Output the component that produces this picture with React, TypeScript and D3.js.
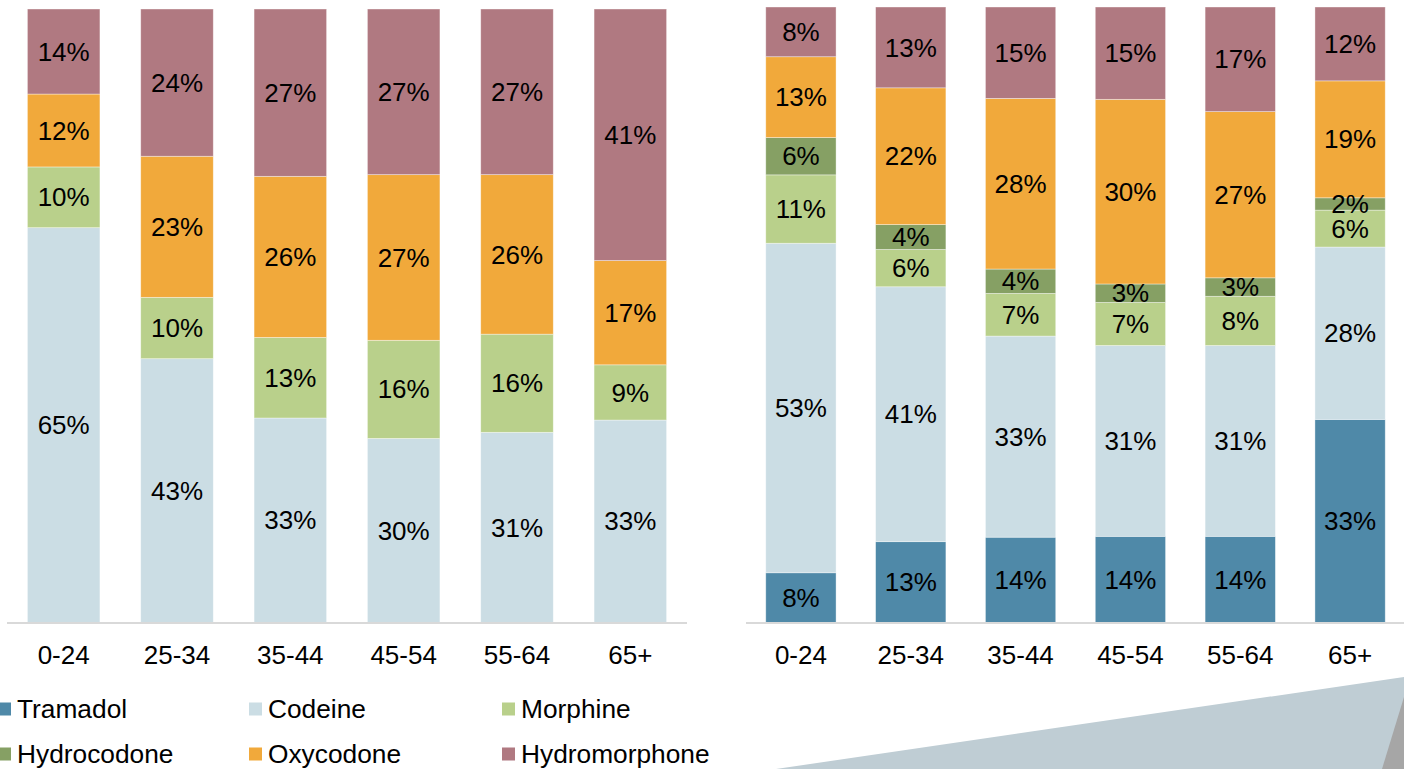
import React from "react";
import * as d3 from "d3";

const categories = ["0-24", "25-34", "35-44", "45-54", "55-64", "65+"];
const seriesNames = ["Tramadol", "Codeine", "Morphine", "Hydrocodone", "Oxycodone", "Hydromorphone"];
const seriesColors = ["#4f89a8", "#cbdde4", "#b9d08b", "#86a064", "#f1a93b", "#b07981"];

// Left chart values (%), per category
const leftTramadol = [0, 0, 0, 0, 0, 0];
const leftCodeine = [65, 43, 33, 30, 31, 33];
const leftMorphine = [10, 10, 13, 16, 16, 9];
const leftHydrocodone = [0, 0, 0, 0, 0, 0];
const leftOxycodone = [12, 23, 26, 27, 26, 17];
const leftHydromorphone = [14, 24, 27, 27, 27, 41];

// Right chart values (%), per category
const rightTramadol = [8, 13, 14, 14, 14, 33];
const rightCodeine = [53, 41, 33, 31, 31, 28];
const rightMorphine = [11, 6, 7, 7, 8, 6];
const rightHydrocodone = [6, 4, 4, 3, 3, 2];
const rightOxycodone = [13, 22, 28, 30, 27, 19];
const rightHydromorphone = [8, 13, 15, 15, 17, 12];

const FONT = "'Liberation Sans', Arial, sans-serif";

function buildRows(cols: number[][]) {
  return categories.map((c, i) => {
    const row: any = { cat: c };
    seriesNames.forEach((s, j) => (row[s] = cols[j][i]));
    return row;
  });
}

function StackedChart({ rows, x0, x1, yTop, yBottom, axisX0, axisX1 }: any) {
  const x = d3.scaleBand<string>().domain(categories).range([x0, x1]).paddingInner(0.36).paddingOuter(0.18);
  const y = d3.scaleLinear().domain([0, 1]).range([yBottom, yTop]);
  const stack = d3.stack<any>().keys(seriesNames).offset(d3.stackOffsetExpand);
  const layers = stack(rows);
  return (
    <g>
      {layers.map((layer, li) => (
        <g key={layer.key}>
          {layer.map((d, i) => {
            const v = rows[i][layer.key];
            if (!v) return null;
            return (
              <rect
                key={i}
                x={x(categories[i])}
                width={x.bandwidth()}
                y={y(d[1])}
                height={y(d[0]) - y(d[1])}
                fill={seriesColors[li]}
                stroke="#ffffff"
                strokeOpacity={0.5}
                strokeWidth={0.75}
              />
            );
          })}
        </g>
      ))}
      {layers.map((layer) => (
        <g key={"l" + layer.key}>
          {layer.map((d, i) => {
            const v = rows[i][layer.key];
            if (!v) return null;
            return (
              <text
                key={i}
                x={(x(categories[i]) as number) + x.bandwidth() / 2}
                y={(y(d[0]) + y(d[1])) / 2}
                dy="0.35em"
                textAnchor="middle"
                fontFamily={FONT}
                fontSize={26}
                fill="#000"
              >
                {v + "%"}
              </text>
            );
          })}
        </g>
      ))}
      <line x1={axisX0} x2={axisX1} y1={623} y2={623} stroke="#d9d9d9" strokeWidth={2} />
      {categories.map((c) => (
        <text
          key={c}
          x={(x(c) as number) + x.bandwidth() / 2}
          y={655}
          dy="0.35em"
          textAnchor="middle"
          fontFamily={FONT}
          fontSize={26}
          fill="#000"
        >
          {c}
        </text>
      ))}
    </g>
  );
}

export default function App() {
  const leftRows = buildRows([leftTramadol, leftCodeine, leftMorphine, leftHydrocodone, leftOxycodone, leftHydromorphone]);
  const rightRows = buildRows([rightTramadol, rightCodeine, rightMorphine, rightHydrocodone, rightOxycodone, rightHydromorphone]);
  const legendCols = [-2, 249, 502];
  const legendRows = [709, 754];
  return (
    <svg
      width={1404}
      height={769}
      style={{ position: "absolute", left: 0, top: 0, background: "#fff" }}
    >
      <rect x={0} y={0} width={1404} height={769} fill="#fff" />
      <polygon points="776,769 1404,677 1404,769" fill="#bfcdd4" />
      <polygon points="1382,769 1404,697 1404,769" fill="#a6a6a6" />
      <StackedChart rows={leftRows} x0={7} x1={687} yTop={9} yBottom={622.5} axisX0={7} axisX1={687} />
      <StackedChart rows={rightRows} x0={746} x1={1405} yTop={7} yBottom={622.5} axisX0={746} axisX1={1404} />
      {seriesNames.map((s, i) => {
        const cx = legendCols[i % 3];
        const cy = legendRows[Math.floor(i / 3)];
        return (
          <g key={s}>
            <rect x={cx} y={cy - 6.5} width={13} height={13} fill={seriesColors[i]} />
            <text x={cx + 19} y={cy} dy="0.35em" fontFamily={FONT} fontSize={26.3} fill="#000">
              {s}
            </text>
          </g>
        );
      })}
    </svg>
  );
}
